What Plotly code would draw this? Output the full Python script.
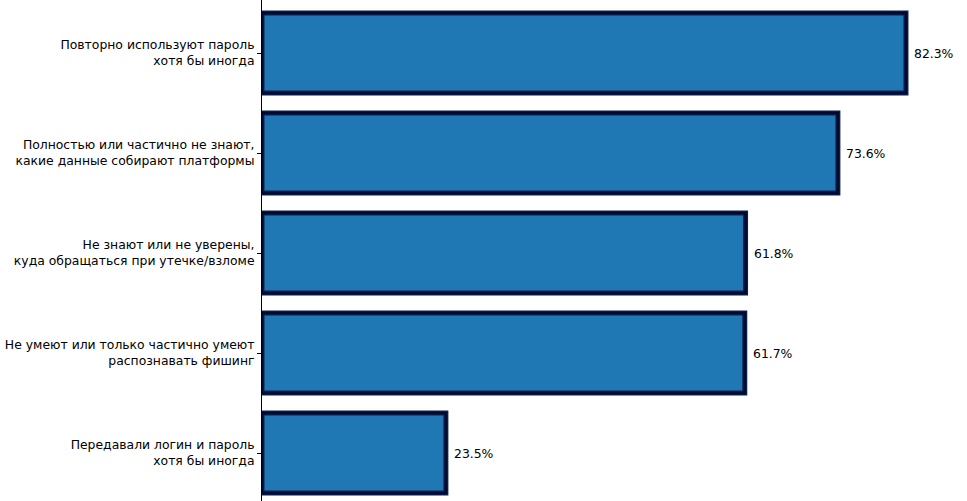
import plotly.graph_objects as go

categories = [
    "Повторно используют пароль<br>хотя бы иногда",
    "Полностью или частично не знают,<br>какие данные собирают платформы",
    "Не знают или не уверены,<br>куда обращаться при утечке/взломе",
    "Не умеют или только частично умеют<br>распознавать фишинг",
    "Передавали логин и пароль<br>хотя бы иногда",
]
values = [82.3, 73.6, 61.8, 61.7, 23.5]
labels = [f"{v:.1f}%" for v in values]

bar_color = "#1f77b4"
edge_color = "#0a2150"
font = dict(family="DejaVu Sans", size=12.4, color="black")

fig = go.Figure()
fig.add_trace(go.Bar(
    y=categories, x=values, orientation="h", width=0.8,
    marker=dict(color=bar_color, line=dict(color=edge_color, width=5)),
    showlegend=False,
))
# darker core of the edge, to fake the soft border of the original
fig.add_trace(go.Bar(
    y=categories, x=values, orientation="h", width=0.8,
    marker=dict(color="rgba(0,0,0,0)", line=dict(color="#000a2e", width=2.5)),
    hoverinfo="skip", showlegend=False,
))

for cat, v, lab in zip(categories, values, labels):
    fig.add_annotation(
        x=v, y=cat, text=lab, showarrow=False,
        xanchor="left", xshift=6, font=font,
    )

fig.update_layout(
    width=967,
    height=501,
    barmode="overlay",
    plot_bgcolor="white",
    paper_bgcolor="white",
    margin=dict(l=262, r=0, t=0, b=0),
    font=font,
)
fig.update_xaxes(range=[0, 90.1], visible=False)
fig.update_yaxes(
    range=[4.48, -0.53],
    showline=True, linecolor="black", linewidth=1,
    ticks="outside", ticklen=4, tickcolor="black",
    showgrid=False, zeroline=False,
    tickfont=font,
)

# drop the browser's default body margin so the figure sits at the page corner
fig.write_html(
    "out.html",
    config={"displayModeBar": False},
    post_script="document.body.style.margin='0';",
)
